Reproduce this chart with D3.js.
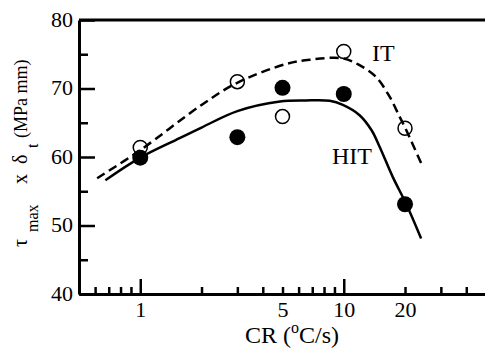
<!DOCTYPE html>
<html>
<head>
<meta charset="utf-8">
<script src="https://cdn.jsdelivr.net/npm/d3@7"></script>
<style>
  body { margin: 0; background: #fff; }
  svg text, svg tspan { font-family: "Liberation Serif", "Times New Roman", serif !important; fill: #000; }
</style>
</head>
<body>
<svg id="chart" width="485" height="352"></svg>
<script>
// measured points
const crPts = [1, 3, 5, 10, 20];
const hitPts = [59.9, 62.9, 70.1, 69.2, 53.1];
const itPts = [61.4, 71.0, 65.9, 75.4, 64.2];

// fitted curves
const hitCurveX = [0.674, 1, 1.5, 2, 3, 4.86, 6.5, 8.53, 9.9, 11.96, 13.7, 15.0, 17.4, 20.3, 24.0];
const hitCurveY = [56.6, 59.9, 62.5, 64.3, 66.7, 68.1, 68.25, 68.2, 67.6, 66.1, 63.9, 61.5, 57.1, 53.1, 48.1];
const itCurveX = [0.614, 1, 2, 2.98, 5.24, 6.81, 9.9, 11.96, 14.4, 16.8, 18.8, 20.3, 24.0];
const itCurveY = [56.9, 61.0, 67.6, 70.8, 73.6, 74.2, 74.4, 73.4, 71.7, 68.8, 65.9, 63.9, 59.1];

const xMajor = [1, 10];
const xMinor = [0.6, 0.7, 0.8, 0.9, 2, 3, 4, 5, 6, 7, 8, 9, 20, 30, 40];
const xLabels = [1, 5, 10, 20];
const yMajor = [40, 50, 60, 70, 80];
const yMinor = [45, 55, 65, 75];

const svg = d3.select('#chart');
const margin = {top: 20, right: 0, bottom: 58, left: 79};
const width = 485;
const height = 352;
const serif = '"Liberation Serif", "Times New Roman", serif';

const x = d3.scaleLog().domain([0.5, 50]).range([margin.left, 486]);
const y = d3.scaleLinear().domain([40, 80]).range([height - margin.bottom, margin.top]);

// frame: top line
svg.append('line')
   .attr('x1', x(0.5)).attr('x2', width)
   .attr('y1', y(80)).attr('y2', y(80))
   .attr('stroke', '#000').attr('stroke-width', 3);

// x axis: minor ticks
svg.append('g')
   .attr('transform', `translate(0, ${y(40)})`)
   .call(d3.axisBottom(x).tickValues(xMinor).tickSizeInner(-7).tickSizeOuter(0).tickFormat(''))
   .call(g => g.select('.domain').remove())
   .call(g => g.selectAll('line').attr('stroke-width', 2.5));

// x axis: major ticks
svg.append('g')
   .attr('transform', `translate(0, ${y(40)})`)
   .call(d3.axisBottom(x).tickValues(xMajor).tickSizeInner(-15).tickSizeOuter(0).tickFormat(''))
   .call(g => g.select('.domain').attr('stroke-width', 3))
   .call(g => g.selectAll('line').attr('stroke-width', 2.5));

// x labels
svg.append('g')
   .attr('transform', `translate(0, ${y(40)})`)
   .call(d3.axisBottom(x).tickValues(xLabels).tickSize(0).tickPadding(7).tickFormat(d3.format('d')))
   .call(g => g.attr('font-family', serif))
   .call(g => g.select('.domain').remove())
   .call(g => g.selectAll('text').attr('font-size', 22));

// y axis: minor
svg.append('g')
   .attr('transform', `translate(${x(0.5)}, 0)`)
   .call(d3.axisLeft(y).tickValues(yMinor).tickSizeInner(-9).tickSizeOuter(0).tickFormat(''))
   .call(g => g.select('.domain').remove())
   .call(g => g.selectAll('line').attr('stroke-width', 2.5));

// y axis: major
svg.append('g')
   .attr('transform', `translate(${x(0.5)}, 0)`)
   .call(d3.axisLeft(y).tickValues(yMajor).tickSizeInner(-16).tickSizeOuter(0).tickPadding(6))
   .call(g => g.attr('font-family', serif))
   .call(g => g.select('.domain').attr('stroke-width', 3))
   .call(g => g.selectAll('line').attr('stroke-width', 2.5))
   .call(g => g.selectAll('text').attr('font-size', 22).attr('dy', '0.28em'));

// curves
const line = d3.line()
    .x(d => x(d[0]))
    .y(d => y(d[1]))
    .curve(d3.curveCatmullRom.alpha(0.5));

svg.append('path')
   .datum(d3.zip(itCurveX, itCurveY))
   .attr('d', line)
   .attr('fill', 'none')
   .attr('stroke', '#000')
   .attr('stroke-width', 2.5)
   .attr('stroke-dasharray', '9,5');

svg.append('path')
   .datum(d3.zip(hitCurveX, hitCurveY))
   .attr('d', line)
   .attr('fill', 'none')
   .attr('stroke', '#000')
   .attr('stroke-width', 2.5);

// open circles (IT)
svg.append('g').selectAll('circle')
   .data(d3.zip(crPts, itPts))
   .enter()
   .append('circle')
   .attr('cx', d => x(d[0]))
   .attr('cy', d => y(d[1]))
   .attr('r', 7)
   .attr('fill', 'none')
   .attr('stroke', '#000')
   .attr('stroke-width', 1.5);

// filled circles (HIT)
svg.append('g').selectAll('circle')
   .data(d3.zip(crPts, hitPts))
   .enter()
   .append('circle')
   .attr('cx', d => x(d[0]))
   .attr('cy', d => y(d[1]))
   .attr('r', 8)
   .attr('fill', '#000');

// series labels
svg.append('text').attr('x', 372).attr('y', 61).attr('font-family', serif).attr('font-size', 24).text('IT');
svg.append('text').attr('x', 332).attr('y', 164).attr('font-family', serif).attr('font-size', 24).text('HIT');

// x title
svg.append('text')
   .attr('x', 292).attr('y', 343)
   .attr('text-anchor', 'middle')
   .attr('font-family', serif)
   .attr('font-size', 24)
   .call(t => {
       t.append('tspan').text('CR (');
       t.append('tspan').attr('font-size', 16).attr('dy', -10).text('o');
       t.append('tspan').attr('dy', 10).text('C/s)');
   });

// y title
svg.append('text')
   .attr('transform', 'translate(27, 247) rotate(-90)')
   .attr('font-family', serif)
   .attr('font-size', 20)
   .call(t => {
       t.append('tspan').attr('x', 0).text('τ');
       t.append('tspan').attr('x', 15).attr('dy', 10.5).attr('font-size', 16).text('max');
       t.append('tspan').attr('x', 63).attr('dy', -10.5).text('x');
       t.append('tspan').attr('x', 83).text('δ');
       t.append('tspan').attr('x', 99).attr('dy', 10.5).attr('font-size', 16).text('t');
       t.append('tspan').attr('x', 109).attr('dy', -10.5).attr('font-size', 18).text('(MPa mm)');
   });
</script>
</body>
</html>
